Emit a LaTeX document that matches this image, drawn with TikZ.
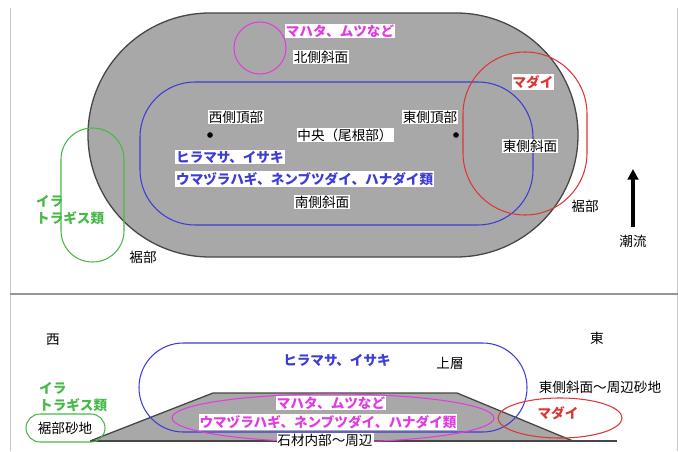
\documentclass[tikz,border=0pt]{standalone}
\usepackage{fontspec}
\setmainfont{Noto Sans CJK JP}
\usetikzlibrary{arrows.meta}
\definecolor{moundgray}{RGB}{168,168,168}
\definecolor{edgegray}{RGB}{70,70,70}
\definecolor{framegray}{RGB}{200,200,200}
\definecolor{rulegray}{RGB}{150,150,150}
\definecolor{fishblue}{RGB}{60,60,215}
\definecolor{fishpink}{RGB}{225,60,225}
\definecolor{fishred}{RGB}{220,55,55}
\definecolor{fishgreen}{RGB}{70,185,70}

\begin{document}
\begin{tikzpicture}[
    x=0.03cm,y=-0.03cm,
    every node/.style={font=\fontsize{11.6}{14.5}\selectfont,inner sep=0.8pt},
    namebox/.style={fill=white},
    fishbox/.style={fill=white,font=\fontsize{11.6}{14.5}\selectfont\bfseries},
    plaintext/.style={font=\fontsize{11.6}{14.5}\selectfont\bfseries,align=left},
    mound/.style={fill=moundgray,draw=edgegray,line width=1.1pt},
    zone/.style={line width=0.9pt},
    flowarrow/.style={-{Triangle[length=3.2mm,width=3.2mm]},line width=2.6pt}
]
\useasboundingbox (0,0) rectangle (678,451);
\fill[white] (0,0) rectangle (678,451);

% frame and separator
\draw[framegray,line width=0.8pt] (10,8) -- (10,451);
\draw[framegray,line width=0.6pt] (677,8) -- (677,451);
\draw[rulegray,line width=1.6pt] (10,294) -- (678,294);

% plan view
\draw[mound,rounded corners=3.66cm] (88,13) rectangle (578,257);
\draw[zone,fishblue,rounded corners=1.65cm] (140,82) rectangle (533,225);
\draw[zone,fishpink] (260,48) circle (0.78cm);
\draw[zone,fishred,rounded corners=1.86cm] (463,52) rectangle (587,215);
\draw[zone,fishgreen,rounded corners=0.94cm] (61,128) rectangle (124,262);
\fill (210,135) circle (2.4pt);
\fill (456,135) circle (2.4pt);

\node[fishbox,text=fishpink] (mahata) at (340,31) {マハタ、ムツなど};
\node[namebox] (north) at (321,57) {北側斜面};
\node[fishbox,text=fishred] (madai) at (533,82) {マダイ};
\node[namebox] (westtop) at (236,117) {西側頂部};
\node[namebox] (easttop) at (430,117) {東側頂部};
\node[namebox] (center) at (345,135) {中央（尾根部）};
\node[fishbox,text=fishblue,anchor=west] (hiramasa) at (175,157) {ヒラマサ、イサキ};
\node[fishbox,text=fishblue,anchor=west] (umazura) at (175,179) {ウマヅラハギ、ネンブツダイ、ハナダイ類};
\node[namebox] (south) at (322,202) {南側斜面};
\node[namebox] (eastslope) at (530,146) {東側斜面};
\node (skirteast) at (585,206) {裾部};
\node (skirtwest) at (143,257) {裾部};
\node[plaintext,text=fishgreen,anchor=west] (ira) at (35,210) {イラ\\トラギス類};

\coordinate (flowtail) at (633,227);
\coordinate (flowhead) at (633,169);
\draw[flowarrow] (flowtail) -- (flowhead);
\node (current) at (633,241) {潮流};

% section view
\node (west) at (53,340) {西};
\node (east) at (597,338) {東};
\fill[moundgray] (90,441) -- (213,393) -- (457,393) -- (573,441) -- cycle;
\draw[edgegray,line width=1.1pt] (90,441) -- (213,393) -- (457,393) -- (573,441);
\draw[edgegray,line width=1.1pt] (90,441) -- (617,441);
\draw[zone,fishblue,rounded corners=1.33cm] (139,343) rectangle (527,432);
\draw[zone,fishpink] (333,418) ellipse [x radius=4.83cm,y radius=0.72cm];
\draw[zone,fishred] (560,418) ellipse [x radius=1.86cm,y radius=0.6cm];
\draw[zone,fishgreen,rounded corners=0.42cm] (26,414) rectangle (105,442);

\node[text=fishblue,font=\fontsize{11.6}{14.5}\selectfont\bfseries] (hiramasa2) at (337,360) {ヒラマサ、イサキ};
\node (upper) at (450,363) {上層};
\node (eastsand) at (600,387) {東側斜面～周辺砂地};
\node[plaintext,text=fishgreen,anchor=west] (ira2) at (38,397) {イラ\\トラギス類};
\node (skirtsand) at (65,428) {裾部砂地};
\node[fishbox,text=fishpink] (mahata2) at (331,403) {マハタ、ムツなど};
\node[fishbox,text=fishpink] (umazura2) at (328,422) {ウマヅラハギ、ネンブツダイ、ハナダイ類};
\node[namebox] (inner) at (325,440) {石材内部～周辺};
\node[text=fishred,font=\fontsize{11.6}{14.5}\selectfont\bfseries] (madai2) at (558,413) {マダイ};
\end{tikzpicture}
\end{document}
